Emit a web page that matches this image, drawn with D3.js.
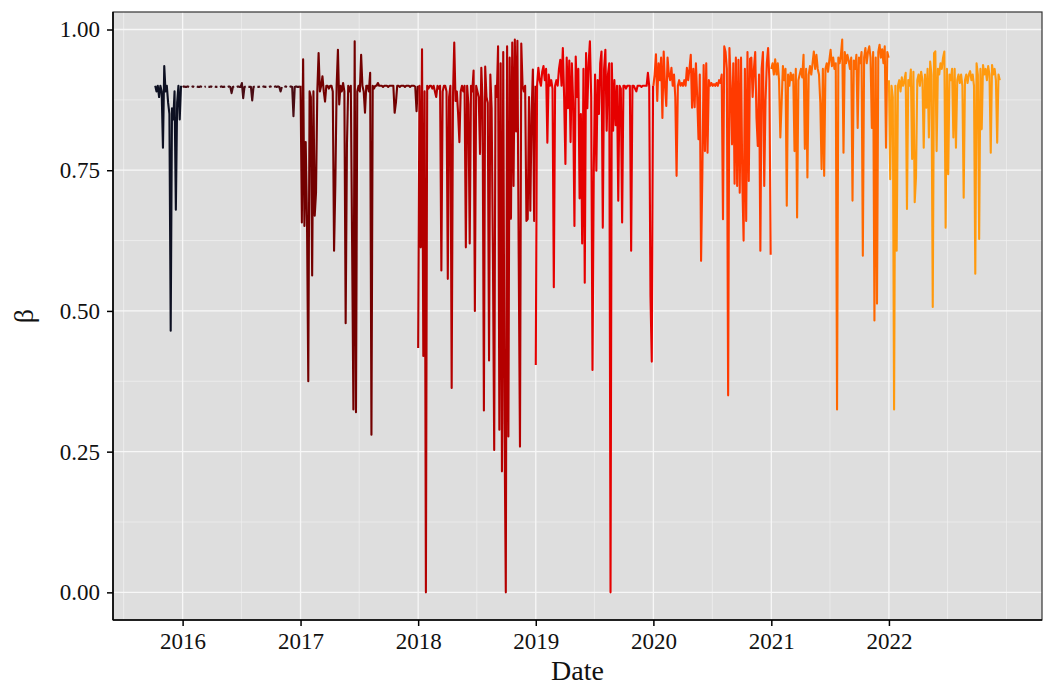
<!DOCTYPE html>
<html>
<head>
<meta charset="utf-8">
<script src="https://cdn.jsdelivr.net/npm/d3@7"></script>
<style>
  html, body { margin: 0; padding: 0; background: #ffffff; }
  svg { display: block; font-family: "Liberation Serif", "Times New Roman", serif; }
</style>
</head>
<body>
<svg id="chart" width="1053" height="689"></svg>
<script>
// ---- data: daily β estimates sampled every 4 days, one array per year ----
const years = ["2015", "2016", "2017", "2018", "2019", "2020", "2021", "2022"];
const yearStarts = ["2015-10-08", "2016-01-01", "2017-01-01", "2018-01-01",
                    "2019-01-01", "2020-01-01", "2021-01-01", "2022-01-01"];
const stepDays = 4;

const beta2015 = [0.90, 0.89, 0.90, 0.88, 0.90, 0.89, 0.79, 0.935, 0.89, 0.90, 0.87,
                  0.85, 0.465, 0.86, 0.84, 0.89, 0.68, 0.87, 0.90, 0.84, 0.90];

// null = no observation (gap in the series)
const beta2016 = [0.898, 0.899, 0.898, 0.898, 0.899, 0.898, null, 0.898, 0.899, 0.898,
                  null, 0.899, 0.898, 0.898, 0.899, 0.898, null, 0.898, 0.899, null,
                  0.898, 0.898, 0.899, 0.898, null, 0.899, 0.898, 0.898, null, 0.898,
                  0.899, 0.898, 0.898, 0.899, null, 0.898, 0.899, 0.898, 0.887, 0.898,
                  0.899, null, 0.898, 0.899, 0.898, 0.898, 0.905, 0.878, 0.898, 0.899,
                  null, 0.898, 0.898, 0.898, 0.874, 0.898, 0.899, null, 0.898, 0.898,
                  0.899, null, 0.898, 0.899, 0.898, 0.898, null, 0.898, 0.899, 0.898,
                  null, 0.898, 0.899, 0.898, 0.899, 0.898, 0.89, 0.898, null, 0.898,
                  0.899, 0.898, null, 0.898, 0.899, 0.898, 0.846, 0.898, 0.899, 0.898,
                  0.898, 0.899];

const beta2017 = [0.90, 0.657, 0.947, 0.651, 0.80, 0.66, 0.375, 0.89, 0.88, 0.563,
                  0.89, 0.669, 0.71, 0.89, 0.958, 0.89, 0.90, 0.917, 0.89, 0.872,
                  0.90, 0.90, 0.895, 0.90, 0.90, 0.89, 0.607, 0.726, 0.90, 0.964,
                  0.867, 0.90, 0.89, 0.905, 0.89, 0.478, 0.796, 0.90, 0.89, 0.90,
                  0.62, 0.325, 0.979, 0.32, 0.89, 0.90, 0.89, 0.955, 0.90, 0.89,
                  0.852, 0.90, 0.90, 0.89, 0.923, 0.28, 0.90, 0.895, 0.90, 0.90,
                  0.905, 0.90, 0.90, 0.90, 0.898, 0.90, 0.90, 0.90, 0.898, 0.90,
                  0.90, 0.90, 0.90, 0.852, 0.87, 0.90, 0.90, 0.898, 0.90, 0.90,
                  0.90, 0.898, 0.90, 0.90, 0.90, 0.898, 0.90, 0.90, 0.90, 0.898,
                  0.855, 0.90];

const beta2018 = [0.434, 0.90, 0.613, 0.965, 0.42, 0.89, 0.0, 0.90, 0.895, 0.90,
                  0.90, 0.895, 0.90, 0.89, 0.88, 0.90, 0.895, 0.90, 0.572, 0.89,
                  0.90, 0.90, 0.89, 0.557, 0.88, 0.90, 0.363, 0.88, 0.977, 0.873,
                  0.89, 0.85, 0.80, 0.89, 0.90, 0.89, 0.90, 0.613, 0.90, 0.867,
                  0.62, 0.90, 0.89, 0.927, 0.50, 0.90, 0.89, 0.88, 0.779, 0.932,
                  0.87, 0.323, 0.934, 0.88, 0.87, 0.412, 0.92, 0.86, 0.60, 0.253,
                  0.90, 0.88, 0.97, 0.289, 0.94, 0.215, 0.96, 0.30, 0.0, 0.97,
                  0.277, 0.95, 0.664, 0.977, 0.722, 0.982, 0.819, 0.98, 0.60, 0.259,
                  0.975, 0.90, 0.89, 0.90, 0.66, 0.663, 0.88, 0.678, 0.85, 0.929,
                  0.66, 0.90];

const beta2019 = [0.404, 0.90, 0.932, 0.91, 0.90, 0.925, 0.935, 0.91, 0.93, 0.799,
                  0.92, 0.90, 0.91, 0.895, 0.542, 0.90, 0.91, 0.90, 0.93, 0.946,
                  0.90, 0.967, 0.88, 0.761, 0.95, 0.86, 0.945, 0.80, 0.94, 0.87,
                  0.651, 0.952, 0.88, 0.93, 0.70, 0.85, 0.62, 0.93, 0.55, 0.958,
                  0.86, 0.94, 0.979, 0.88, 0.395, 0.746, 0.92, 0.749, 0.91, 0.85,
                  0.94, 0.961, 0.648, 0.93, 0.964, 0.82, 0.92, 0.94, 0.0, 0.94,
                  0.82, 0.91, 0.83, 0.90, 0.696, 0.90, 0.895, 0.657, 0.90, 0.90,
                  0.895, 0.90, 0.90, 0.90, 0.607, 0.90, 0.90, 0.895, 0.89, 0.90,
                  0.90, 0.90, 0.898, 0.90, 0.90, 0.90, 0.90, 0.923, 0.90, 0.527,
                  0.41, 0.90];

const beta2020 = [0.90, 0.92, 0.956, 0.873, 0.94, 0.91, 0.95, 0.843, 0.961, 0.90,
                  0.864, 0.95, 0.92, 0.91, 0.932, 0.90, 0.92, 0.88, 0.74, 0.90,
                  0.91, 0.90, 0.905, 0.90, 0.91, 0.90, 0.932, 0.91, 0.93, 0.955,
                  0.861, 0.93, 0.862, 0.94, 0.88, 0.805, 0.92, 0.589, 0.746, 0.937,
                  0.784, 0.94, 0.781, 0.91, 0.90, 0.905, 0.90, 0.903, 0.90, 0.905,
                  0.90, 0.91, 0.905, 0.92, 0.663, 0.97, 0.96, 0.93, 0.35, 0.967,
                  0.90, 0.796, 0.94, 0.726, 0.95, 0.722, 0.946, 0.71, 0.95, 0.731,
                  0.625, 0.93, 0.66, 0.96, 0.731, 0.948, 0.95, 0.88, 0.93, 0.96,
                  0.843, 0.793, 0.92, 0.607, 0.93, 0.96, 0.722, 0.873, 0.94, 0.967,
                  0.91, 0.60];

const beta2021 = [0.93, 0.94, 0.92, 0.947, 0.92, 0.94, 0.91, 0.808, 0.87, 0.935,
                  0.91, 0.93, 0.687, 0.92, 0.90, 0.923, 0.91, 0.92, 0.784, 0.93,
                  0.666, 0.91, 0.92, 0.93, 0.915, 0.955, 0.788, 0.93, 0.737, 0.92,
                  0.935, 0.92, 0.94, 0.961, 0.93, 0.955, 0.93, 0.92, 0.87, 0.752,
                  0.93, 0.74, 0.93, 0.94, 0.925, 0.945, 0.964, 0.935, 0.95, 0.93,
                  0.94, 0.325, 0.95, 0.94, 0.955, 0.982, 0.781, 0.96, 0.94, 0.955,
                  0.945, 0.93, 0.95, 0.696, 0.945, 0.93, 0.955, 0.825, 0.95, 0.94,
                  0.96, 0.598, 0.95, 0.967, 0.94, 0.96, 0.97, 0.95, 0.825, 0.96,
                  0.483, 0.95, 0.513, 0.96, 0.973, 0.95, 0.965, 0.94, 0.97, 0.79,
                  0.96, 0.95];

const beta2022 = [0.91, 0.734, 0.90, 0.88, 0.325, 0.90, 0.607, 0.90, 0.91, 0.89,
                  0.915, 0.90, 0.91, 0.923, 0.681, 0.91, 0.90, 0.929, 0.77, 0.925,
                  0.693, 0.737, 0.91, 0.92, 0.90, 0.925, 0.91, 0.79, 0.92, 0.861,
                  0.93, 0.808, 0.943, 0.92, 0.507, 0.958, 0.961, 0.784, 0.93, 0.92,
                  0.94, 0.93, 0.95, 0.961, 0.648, 0.93, 0.743, 0.92, 0.91, 0.93,
                  0.808, 0.93, 0.79, 0.91, 0.92, 0.905, 0.92, 0.90, 0.701, 0.91,
                  0.92, 0.905, 0.92, 0.926, 0.91, 0.92, 0.90, 0.566, 0.94, 0.92,
                  0.628, 0.93, 0.823, 0.937, 0.92, 0.93, 0.91, 0.935, 0.92, 0.781,
                  0.937, 0.92, 0.93, 0.91, 0.799, 0.92, 0.91];

const betaByYear = [beta2015, beta2016, beta2017, beta2018, beta2019, beta2020, beta2021, beta2022];
const yearColors = ["#0d1022", "#4a0c14", "#730000", "#b40000", "#e60000", "#ff3a00", "#ff6800", "#ff9a0e"];

const yTickValues = [0, 0.25, 0.5, 0.75, 1];
const yMinorValues = [0.125, 0.375, 0.625, 0.875];
const xTickLabels = ["2016", "2017", "2018", "2019", "2020", "2021", "2022"];
const xMinorDates = ["2015-07-02", "2016-07-02", "2017-07-02", "2018-07-02", "2019-07-02",
                     "2020-07-02", "2021-07-02", "2022-07-02", "2023-01-01"];

// ---- layout ----
const W = 1053, H = 689;
const margin = { top: 12, right: 11, bottom: 69, left: 113 };
const pw = W - margin.left - margin.right;
const ph = H - margin.top - margin.bottom;

const parse = d3.utcParse("%Y-%m-%d");

const series = years.map((yr, k) => {
  const start = parse(yearStarts[k]);
  return {
    year: yr,
    color: yearColors[k],
    points: betaByYear[k].map((v, i) => ({ date: d3.utcDay.offset(start, i * stepDays), v }))
  };
});

const allPts = series.flatMap(s => s.points).filter(p => p.v != null);
const dateExt = d3.extent(allPts, p => p.date);
const valExt = d3.extent(allPts, p => p.v);

// 5% expansion on both axes
const dSpan = dateExt[1] - dateExt[0];
const vSpan = valExt[1] - valExt[0];
const x = d3.scaleUtc()
  .domain([new Date(+dateExt[0] - 0.05 * dSpan), new Date(+dateExt[1] + 0.05 * dSpan)])
  .range([0, pw]);
const y = d3.scaleLinear()
  .domain([valExt[0] - 0.05 * vSpan, valExt[1] + 0.05 * vSpan])
  .range([ph, 0]);

const svg = d3.select("#chart");
const g = svg.append("g").attr("transform", `translate(${margin.left},${margin.top})`);

// panel background
g.append("rect").attr("width", pw).attr("height", ph).attr("fill", "#dedede");

// minor grid
g.append("g").selectAll("line").data(yMinorValues).join("line")
  .attr("x1", 0).attr("x2", pw)
  .attr("y1", d => y(d)).attr("y2", d => y(d))
  .attr("stroke", "#f0f0f0").attr("stroke-width", 0.7);
g.append("g").selectAll("line").data(xMinorDates.map(parse)).join("line")
  .attr("x1", d => x(d)).attr("x2", d => x(d))
  .attr("y1", 0).attr("y2", ph)
  .attr("stroke", "#f0f0f0").attr("stroke-width", 0.7);

// major grid
const xTickDates = xTickLabels.map(s => parse(s + "-01-01"));
g.append("g").selectAll("line").data(yTickValues).join("line")
  .attr("x1", 0).attr("x2", pw)
  .attr("y1", d => y(d)).attr("y2", d => y(d))
  .attr("stroke", "#f7f7f7").attr("stroke-width", 1.3);
g.append("g").selectAll("line").data(xTickDates).join("line")
  .attr("x1", d => x(d)).attr("x2", d => x(d))
  .attr("y1", 0).attr("y2", ph)
  .attr("stroke", "#f7f7f7").attr("stroke-width", 1.3);

// series lines, one per year
svg.append("defs").append("clipPath").attr("id", "panel-clip")
  .append("rect").attr("width", pw).attr("height", ph);

const line = d3.line()
  .defined(d => d.v != null)
  .x(d => x(d.date))
  .y(d => y(d.v));

g.append("g").attr("clip-path", "url(#panel-clip)")
  .selectAll("path").data(series).join("path")
  .attr("d", s => line(s.points))
  .attr("fill", "none")
  .attr("stroke", s => s.color)
  .attr("stroke-width", 2.1)
  .attr("stroke-linejoin", "round");

// panel border
g.append("rect").attr("width", pw).attr("height", ph)
  .attr("fill", "none").attr("stroke", "#333333").attr("stroke-width", 1.2);

// axes
const yAxis = d3.axisLeft(y).tickValues(yTickValues).tickFormat(d3.format(".2f"))
  .tickSize(6).tickPadding(7);
const xAxis = d3.axisBottom(x).tickValues(xTickDates).tickFormat(d3.utcFormat("%Y"))
  .tickSize(6).tickPadding(7);

const gy = g.append("g").call(yAxis);
const gx = g.append("g").attr("transform", `translate(0,${ph})`).call(xAxis);

[gx, gy].forEach(a => {
  a.select(".domain").attr("stroke", "#000").attr("stroke-width", 1.6);
  a.selectAll(".tick line").attr("stroke", "#000").attr("stroke-width", 1.5);
  a.selectAll(".tick text")
    .attr("fill", "#111")
    .style("font-family", '"Liberation Serif", "Times New Roman", serif')
    .style("font-size", "23px");
});
gx.select(".domain").attr("d", `M0,0H${pw}`);
gy.select(".domain").attr("d", `M0,0V${ph}`);

// axis titles
svg.append("text")
  .attr("x", margin.left + pw / 2).attr("y", 680)
  .attr("text-anchor", "middle")
  .attr("fill", "#111")
  .style("font-size", "28px")
  .text("Date");

svg.append("text")
  .attr("transform", `translate(33,${margin.top + ph / 2}) rotate(-90)`)
  .attr("text-anchor", "middle")
  .attr("fill", "#111")
  .style("font-size", "28px")
  .text("β");
</script>
</body>
</html>
